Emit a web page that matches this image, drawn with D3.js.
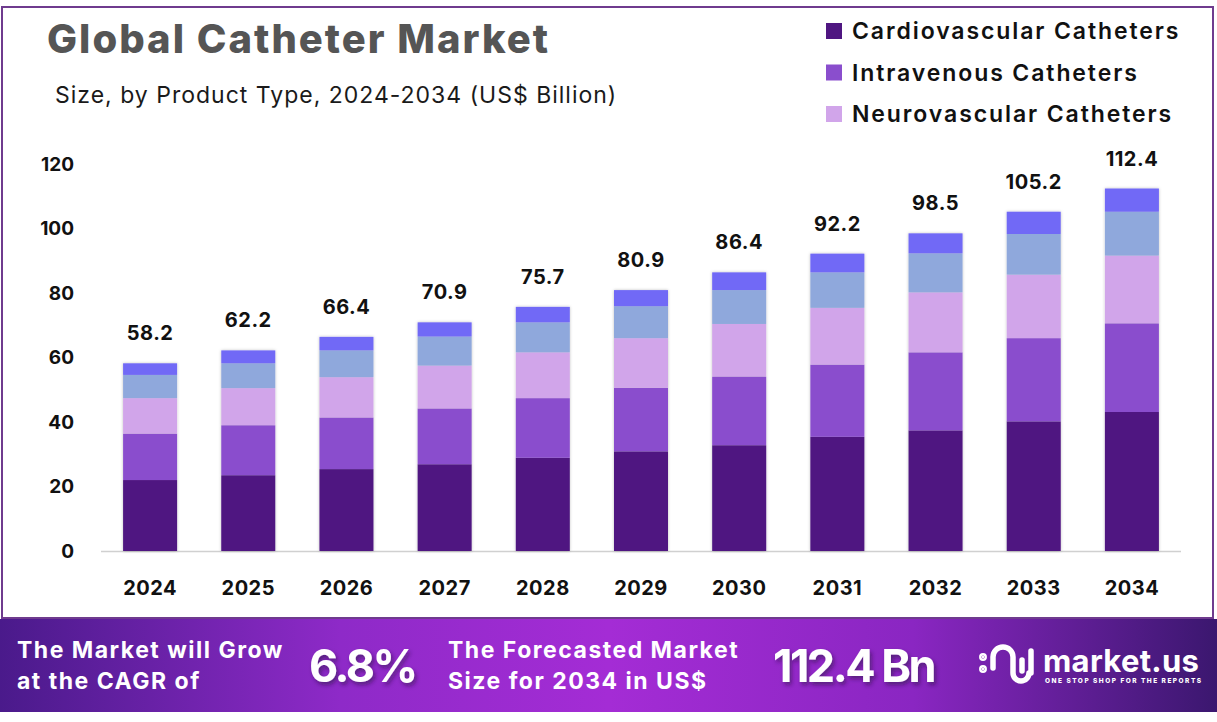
<!DOCTYPE html>
<html>
<head>
<meta charset="utf-8">
<script src="https://cdn.jsdelivr.net/npm/d3@7"></script>
<style>
  body { margin: 0; background: #fff; }
  svg { display: block; font-family: Inter, "Open Sans", sans-serif; }
</style>
</head>
<body>
<div id="chart"></div>
<script>
// chart data (US$ Billion)
const years = ["2024","2025","2026","2027","2028","2029","2030","2031","2032","2033","2034"];
const cardiovascular = [22.0, 23.5, 25.4, 26.9, 28.9, 30.9, 32.8, 35.4, 37.4, 40.2, 43.1];
const intravenous    = [14.4, 15.5, 16.0, 17.3, 18.5, 19.7, 21.3, 22.4, 24.2, 25.8, 27.5];
const neurovascular  = [11.0, 11.5, 12.5, 13.3, 14.2, 15.4, 16.3, 17.6, 18.6, 19.7, 21.0];
const otherA         = [ 7.2,  7.7,  8.3,  9.0,  9.3,  9.9, 10.5, 11.0, 12.1, 12.6, 13.6];
const otherB         = [ 3.6,  4.0,  4.2,  4.4,  4.8,  5.0,  5.5,  5.8,  6.2,  6.9,  7.2];
const totals         = [58.2, 62.2, 66.4, 70.9, 75.7, 80.9, 86.4, 92.2, 98.5, 105.2, 112.4];
const yTicks = [0, 20, 40, 60, 80, 100, 120];
const legendNames = ["Cardiovascular Catheters", "Intravenous Catheters", "Neurovascular Catheters"];

const keys = ["cardio", "iv", "neuro", "a", "b"];
const colors = ["#4f1681", "#8a4ecd", "#d1a5ea", "#8fa8dc", "#7169f6"];

const width = 1217, height = 722;

const rows = years.map((y, i) => ({
  year: y, cardio: cardiovascular[i], iv: intravenous[i], neuro: neurovascular[i],
  a: otherA[i], b: otherB[i], total: totals[i]
}));

const svg = d3.select("#chart").append("svg")
  .attr("width", width)
  .attr("height", height);

const defs = svg.append("defs");
const grad = defs.append("linearGradient").attr("id", "banner");
[[0, "#4a1a8b"], [0.28, "#8e2ac8"], [0.5, "#a42cd5"], [0.75, "#8a26c2"], [1, "#3b176f"]]
  .forEach(s => grad.append("stop").attr("offset", s[0]).attr("stop-color", s[1]));

const shadow = defs.append("filter").attr("id", "shadow")
  .attr("x", "-20%").attr("y", "-20%").attr("width", "140%").attr("height", "140%");
shadow.append("feDropShadow").attr("dx", 0).attr("dy", 0).attr("stdDeviation", 1.5)
  .attr("flood-color", "#000").attr("flood-opacity", 0.25);

const textShadow = defs.append("filter").attr("id", "tshadow");
textShadow.append("feDropShadow").attr("dx", 2).attr("dy", 3).attr("stdDeviation", 2)
  .attr("flood-color", "#2a0a40").attr("flood-opacity", 0.55);

// frame
svg.append("rect")
  .attr("x", 2).attr("y", 7).attr("width", 1211).attr("height", 611)
  .attr("fill", "none").attr("stroke", "#6f3b8e").attr("stroke-width", 2);

// titles
svg.append("text")
  .attr("x", 47).attr("y", 53)
  .attr("font-size", 40).attr("font-weight", 800).attr("fill", "#555")
  .attr("letter-spacing", 2)
  .text("Global Catheter Market");

svg.append("text")
  .attr("x", 55).attr("y", 103)
  .attr("font-size", 23).attr("fill", "#1a1a1a")
  .attr("letter-spacing", 1)
  .text("Size, by Product Type, 2024-2034 (US$ Billion)");

// legend
const legend = svg.append("g");
legendNames.forEach((name, i) => {
  const cy = 31 + i * 41.5;
  legend.append("rect")
    .attr("x", 826).attr("y", cy - 8).attr("width", 16).attr("height", 16)
    .attr("fill", colors[i]);
  legend.append("text")
    .attr("x", 852).attr("y", cy).attr("dy", "0.36em")
    .attr("font-size", 23).attr("font-weight", 600).attr("fill", "#111")
    .attr("letter-spacing", 1.9)
    .text(name);
});

// scales
const x = d3.scaleBand(years, [101, 1181]).paddingInner(0.45).paddingOuter(0.225);
const y = d3.scaleLinear([0, 120], [551, 164]);

// y axis
const yAxis = svg.append("g")
  .attr("transform", "translate(74,0)")
  .call(d3.axisLeft(y).tickValues(yTicks).tickSize(0).tickPadding(0));
yAxis.select(".domain").remove();
yAxis.selectAll("text")
  .attr("font-size", 19).attr("font-weight", 700).attr("fill", "#111")
  .attr("font-family", "Inter, sans-serif");

// baseline
svg.append("line")
  .attr("x1", 101).attr("x2", 1181).attr("y1", y(0) + 0.5).attr("y2", y(0) + 0.5)
  .attr("stroke", "#d0d0d0").attr("stroke-width", 1.5);

// stacked bars
const series = d3.stack().keys(keys)(rows);
svg.append("g")
  .attr("filter", "url(#shadow)")
  .selectAll("g")
  .data(series)
  .join("g")
    .attr("fill", (d, i) => colors[i])
  .selectAll("rect")
  .data(d => d)
  .join("rect")
    .attr("x", d => x(d.data.year))
    .attr("y", d => y(d[1]))
    .attr("height", d => y(d[0]) - y(d[1]))
    .attr("width", x.bandwidth());

// totals above bars
svg.append("g")
  .selectAll("text")
  .data(rows)
  .join("text")
    .attr("x", d => x(d.year) + x.bandwidth() / 2)
    .attr("y", d => y(d.total) - 23)
    .attr("text-anchor", "middle")
    .attr("font-size", 20).attr("font-weight", 700).attr("fill", "#111")
    .attr("letter-spacing", 0.5)
    .text(d => d.total.toFixed(1));

// x axis
const xAxis = svg.append("g")
  .attr("transform", `translate(0,${y(0)})`)
  .call(d3.axisBottom(x).tickSize(0).tickPadding(30));
xAxis.select(".domain").remove();
xAxis.selectAll("text")
  .attr("font-size", 20).attr("font-weight", 700).attr("fill", "#111")
  .attr("letter-spacing", 0.5)
  .attr("font-family", "Inter, sans-serif");

// banner
const banner = svg.append("g");
banner.append("rect")
  .attr("x", 0).attr("y", 619).attr("width", width).attr("height", 93)
  .attr("fill", "url(#banner)");

const bannerText = (tx, ty, str, size, ls) => banner.append("text")
  .attr("x", tx).attr("y", ty)
  .attr("font-size", size).attr("font-weight", 700).attr("fill", "#fff")
  .attr("letter-spacing", ls)
  .text(str);

bannerText(17, 658, "The Market will Grow", 23, 1.5);
bannerText(17, 689, "at the CAGR of", 23, 1.5);
bannerText(448, 658, "The Forecasted Market", 23, 1.5);
bannerText(448, 689, "Size for 2034 in US$", 23, 1.5);
bannerText(309, 682, "6.8%", 45, -2.5).attr("filter", "url(#tshadow)");
bannerText(773, 682, "112.4 Bn", 45, -2.5).attr("filter", "url(#tshadow)");

// logo
const logo = banner.append("g").attr("transform", "translate(-2,-7)")
  .attr("fill", "none").attr("stroke", "#fff")
  .attr("stroke-linecap", "round").attr("stroke-width", 5.5);
logo.append("path").attr("d", "M995,675 L995,664 A10,10 0 0 1 1015,664 L1015,680 A8,8 0 0 0 1031,680");
logo.append("path").attr("d", "M1024,667 L1024,678");
logo.append("path").attr("d", "M1033,658 L1033,680");
logo.append("circle").attr("cx", 985).attr("cy", 664).attr("r", 1.2).attr("fill", "#fff");
logo.append("circle").attr("cx", 985).attr("cy", 676).attr("r", 1.2).attr("fill", "#fff");
bannerText(1043, 672, "market.us", 31, 0.3);
banner.append("text")
  .attr("x", 1045).attr("y", 683)
  .attr("font-size", 6.5).attr("font-weight", 800).attr("fill", "#fff")
  .attr("letter-spacing", 1.5)
  .text("ONE STOP SHOP FOR THE REPORTS");
</script>
</body>
</html>
